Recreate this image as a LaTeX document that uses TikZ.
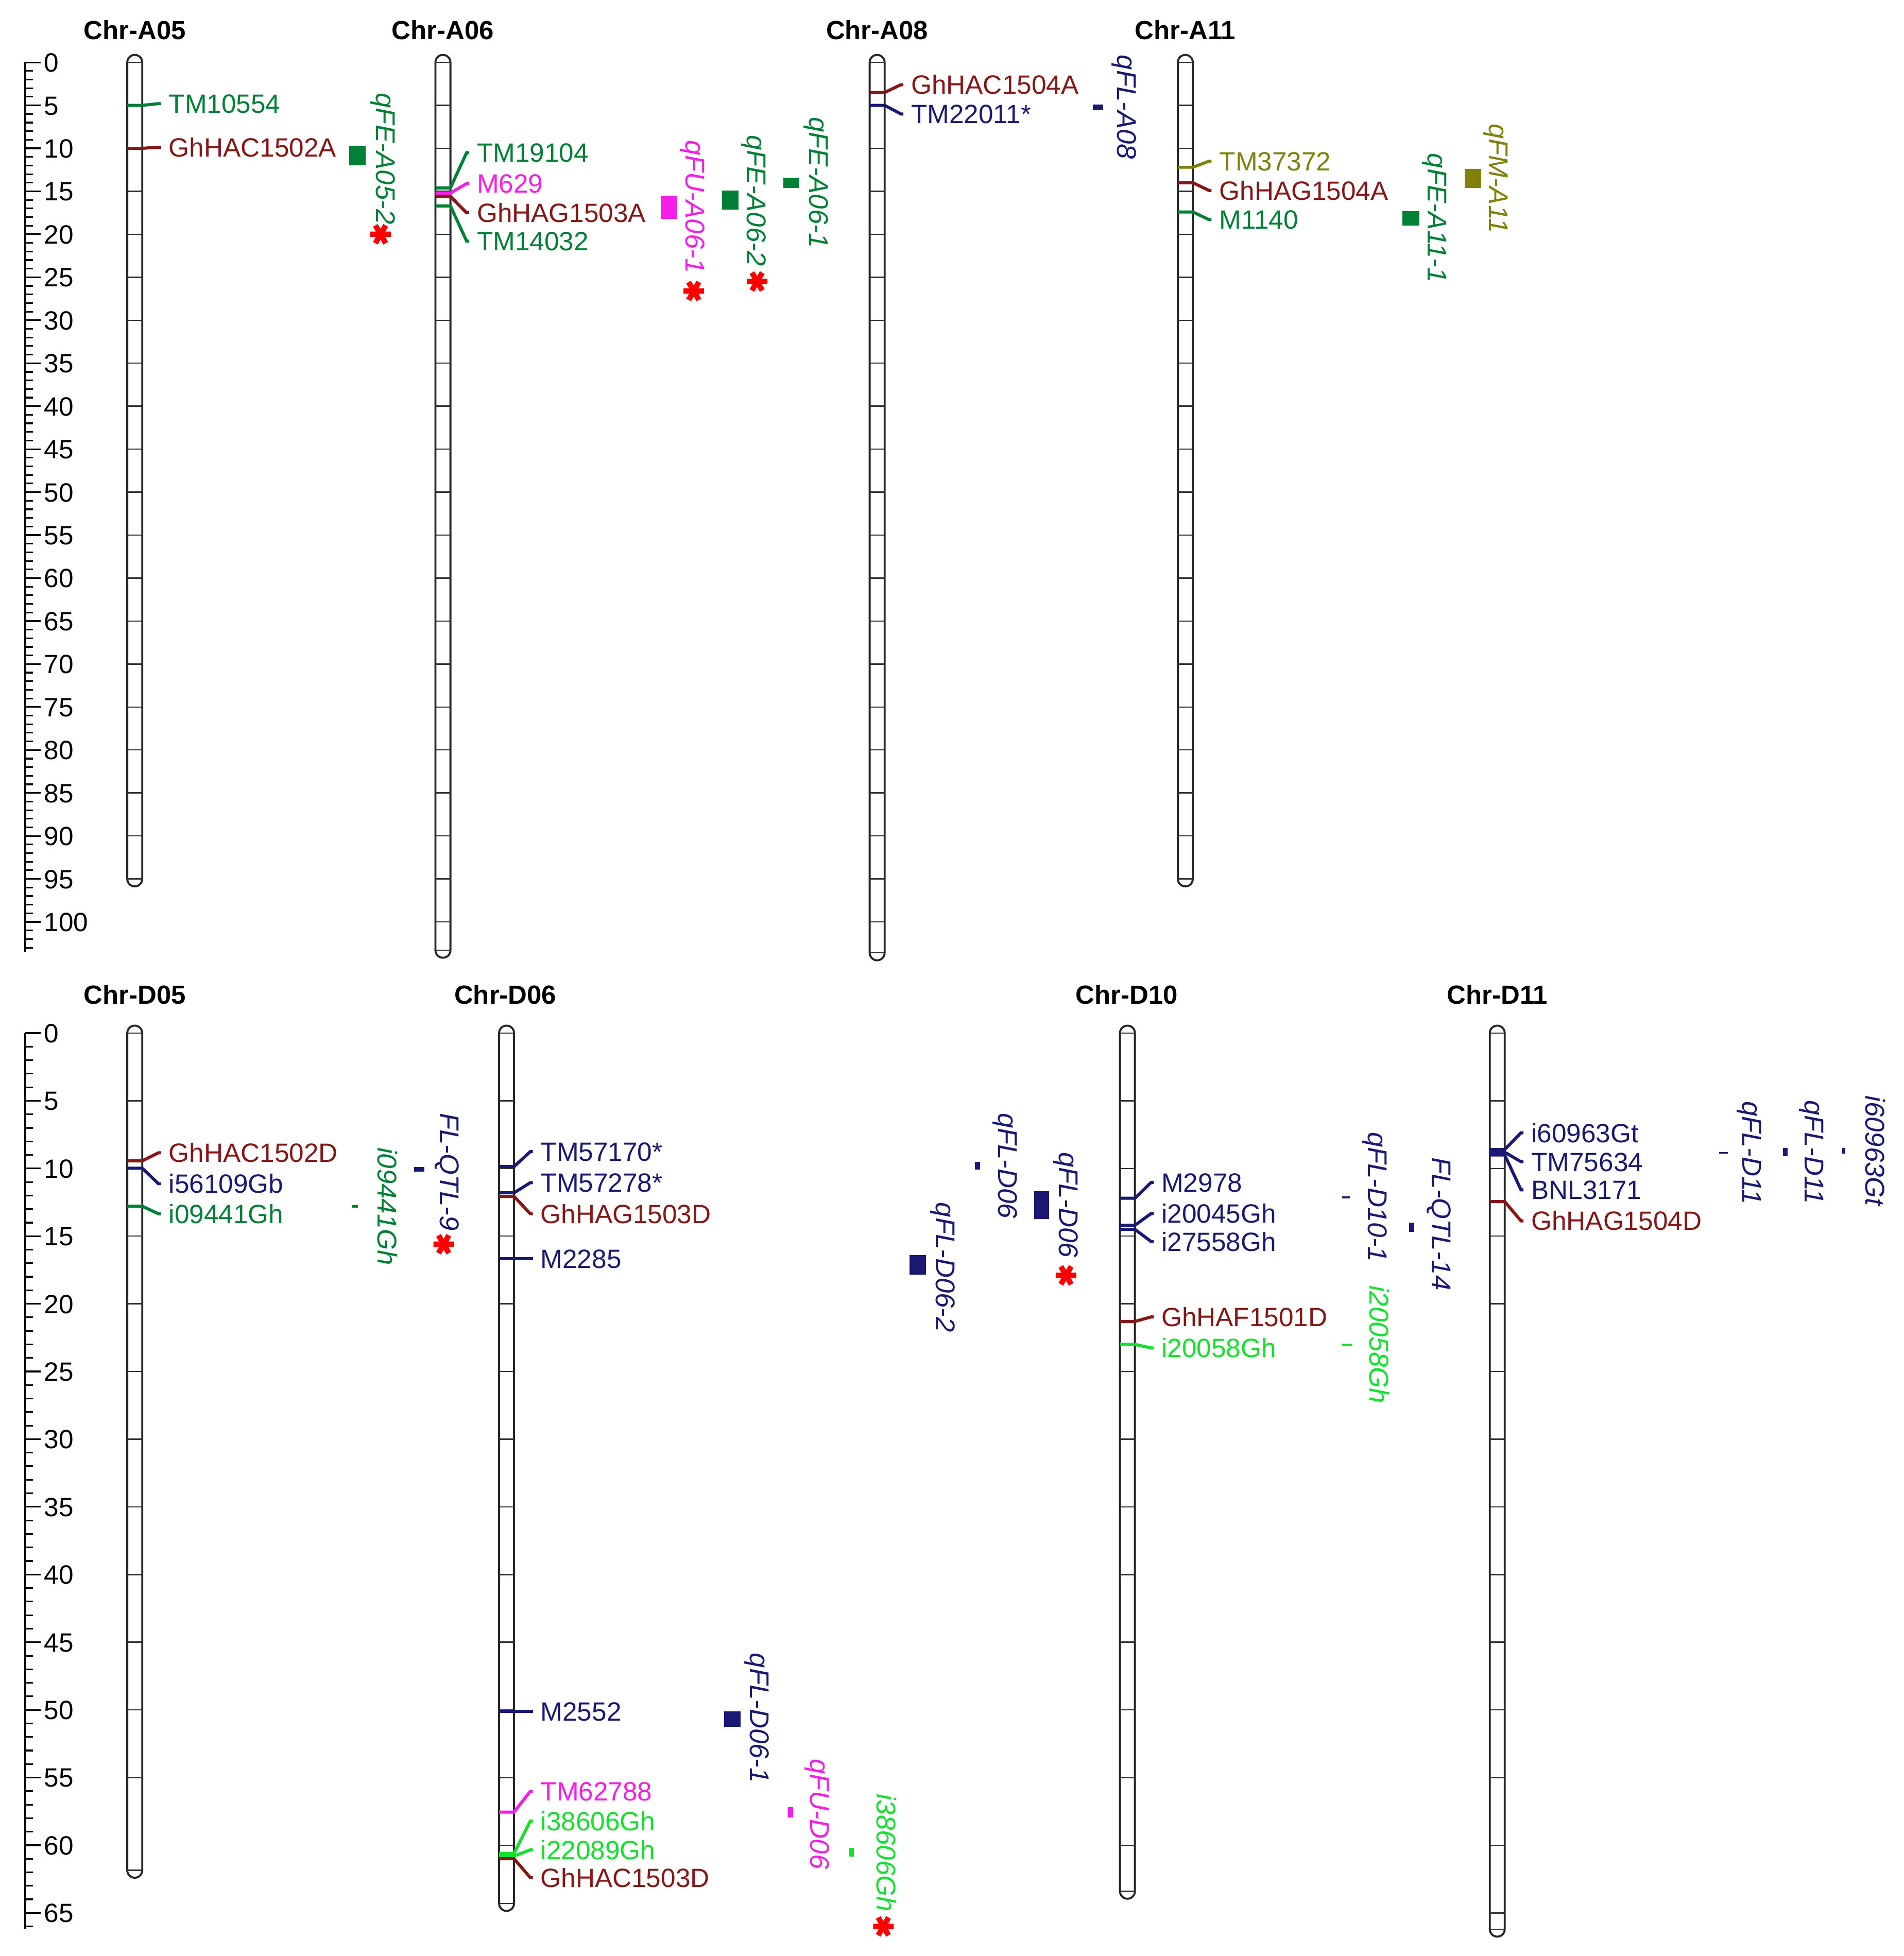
\documentclass[tikz,border=0pt]{standalone}
\usepackage{fontspec}
\setmainfont{Liberation Sans}
\definecolor{mgreen}{RGB}{0,128,55}
\definecolor{mred}{RGB}{135,22,22}
\definecolor{mnavy}{RGB}{25,25,115}
\definecolor{mpink}{RGB}{245,30,230}
\definecolor{molive}{RGB}{128,128,10}
\definecolor{mlime}{RGB}{20,225,45}
\begin{document}
\begin{tikzpicture}[x=0.024227cm,y=-0.024227cm,
  mlab/.style={font=\fontsize{14.6}{16}\selectfont,anchor=west,inner sep=0pt,text height=10.5pt,text depth=0pt},
  qlab/.style={font=\fontsize{15}{17}\selectfont\itshape,rotate=-90,inner sep=0pt,text height=10.7pt,text depth=3.2pt},
  ttl/.style={font=\fontsize{14.5}{16}\selectfont\bfseries,inner sep=0pt,text height=10.4pt,text depth=0pt},
  chr/.style={draw=black!85,fill=white,line width=1.1pt},
  band/.style={black!80,line width=0.7pt},
  mline/.style={line width=1.7pt},
  scl/.style={line width=0.9pt},
  astk/.pic={\draw[red,line width=3pt] (-0.2cm,0cm) -- (0.2cm,0cm) (120:0.2cm) -- (-60:0.2cm) (60:0.2cm) -- (240:0.2cm);}]

\useasboundingbox (0,0) rectangle (1526,1567.7);

% titles
\node[ttl] (tA05) at (108,24) {Chr-A05};
\node[ttl] (tA06) at (355,24) {Chr-A06};
\node[ttl] (tA08) at (703,24) {Chr-A08};
\node[ttl] (tA11) at (950,24) {Chr-A11};
\node[ttl] (tD05) at (108,797) {Chr-D05};
\node[ttl] (tD06) at (405,797) {Chr-D06};
\node[ttl] (tD10) at (903,797) {Chr-D10};
\node[ttl] (tD11) at (1200,797) {Chr-D11};

% upper panel, y in cM
\begin{scope}[shift={(0,50)},y=-0.16692cm]
  \draw[scl] (20,0) -- (20,103.5);
  \foreach \k in {0,...,103} \draw[scl] (20,\k) -- (26.5,\k);
  \foreach \k in {0,5,...,100} {
    \draw[scl] (20,\k) -- (32.5,\k);
    \node[mlab] (sa\k) at (35,\k) {\k};
  }
  \foreach \xc/\L/\M in {108/95/95,355/103.3/100,703/103.6/100,950/95/95} {
    \draw[chr] (\xc-6,\L) -- (\xc-6,0) arc[start angle=180,end angle=0,radius=0.1454cm]
      -- (\xc+6,\L) arc[start angle=0,end angle=-180,radius=0.1454cm] -- cycle;
    \foreach \k in {0,5,...,\M} \draw[band] (\xc-6,\k) -- (\xc+6,\k);
    \draw[band] (\xc-6,\L) -- (\xc+6,\L);
  }
  \foreach \xc/\m/\l/\col/\nm/\txt in {
    108/5/4.8/mgreen/TM10554/TM10554,
    108/10/9.87/mred/GhHAC1502A/GhHAC1502A,
    355/14.6/10.5/mgreen/TM19104/TM19104,
    355/15.2/14.1/mpink/M629/M629,
    355/15.6/17.5/mred/GhHAG1503A/GhHAG1503A,
    355/16.7/20.8/mgreen/TM14032/TM14032,
    703/3.5/2.6/mred/GhHAC1504A/GhHAC1504A,
    703/5.0/6.0/mnavy/TM22011/TM22011*,
    950/12.2/11.5/molive/TM37372/TM37372,
    950/14.0/14.9/mred/GhHAG1504A/GhHAG1504A,
    950/17.4/18.3/mgreen/M1140/M1140} {
    \node[mlab,text=\col] (\nm) at (\xc+27,\l) {\txt};
    \draw[mline,color=\col] (\xc-6,\m) -- (\xc+6,\m) -- (\xc+19,\l) -- ([xshift=-0.145cm]\nm.west);
  }
  \foreach \xa/\xb/\ca/\cb/\col/\nm/\lx/\lc/\txt in {
    280/293/9.7/12.0/mgreen/qFE-A05-2/307/11.2/qFE-A05-2,
    529.6/542.3/15.5/18.2/mpink/qFU-A06-1/555/16.8/qFU-A06-1,
    578.7/591.8/14.9/17.1/mgreen/qFE-A06-2/604/16.1/qFE-A06-2,
    627.7/640.6/13.4/14.6/mgreen/qFE-A06-1/654/14.0/qFE-A06-1,
    876/884/4.9/5.55/mnavy/qFL-A08/901/5.2/qFL-A08,
    1124/1137.6/17.3/19.0/mgreen/qFE-A11-1/1150/18.1/qFE-A11-1,
    1174/1187/12.4/14.6/molive/qFM-A11/1199/13.5/qFM-A11} {
    \fill[fill=\col] (\xa,\ca) rectangle (\xb,\cb);
    \node[qlab,text=\col] (\nm) at (\lx,\lc) {\txt};
  }
  \pic at (305,20.0) {astk};
  \pic at (556,26.6) {astk};
  \pic at (606.8,25.5) {astk};
\end{scope}

% lower panel, y in cM
\begin{scope}[shift={(0,828)},y=-0.262863cm]
  \draw[scl] (20,0) -- (20,66.2);
  \foreach \k in {0,...,66} \draw[scl] (20,\k) -- (26.5,\k);
  \foreach \k in {0,5,...,65} {
    \draw[scl] (20,\k) -- (32.5,\k);
    \node[mlab] (sd\k) at (35,\k) {\k};
  }
  \foreach \xc/\L/\M in {108/61.85/55,406/64.3/60,903.6/63.4/60,1200/66.2/65} {
    \draw[chr] (\xc-6,\L) -- (\xc-6,0) arc[start angle=180,end angle=0,radius=0.1454cm]
      -- (\xc+6,\L) arc[start angle=0,end angle=-180,radius=0.1454cm] -- cycle;
    \foreach \k in {0,5,...,\M} \draw[band] (\xc-6,\k) -- (\xc+6,\k);
    \draw[band] (\xc-6,\L) -- (\xc+6,\L);
  }
  \foreach \xc/\m/\l/\col/\nm/\txt in {
    108/9.44/8.84/mred/GhHAC1502D/GhHAC1502D,
    108/9.98/11.13/mnavy/i56109Gb/i56109Gb,
    108/12.79/13.35/mgreen/i09441Gh/i09441Gh,
    406/9.86/8.76/mnavy/TM57170/TM57170*,
    406/11.8/11.05/mnavy/TM57278/TM57278*,
    406/12.07/13.34/mred/GhHAG1503D/GhHAG1503D,
    406/16.65/16.65/mnavy/M2285/M2285,
    406/50.1/50.1/mnavy/M2552/M2552,
    406/57.55/56.02/mpink/TM62788/TM62788,
    406/60.6/58.22/mlime/i38606Gh/i38606Gh,
    406/60.8/60.34/mlime/i22089Gh/i22089Gh,
    406/61.0/62.39/mred/GhHAC1503D/GhHAC1503D,
    903.6/12.2/11.03/mnavy/M2978/M2978,
    903.6/14.2/13.33/mnavy/i20045Gh/i20045Gh,
    903.6/14.5/15.4/mnavy/i27558Gh/i27558Gh,
    903.6/21.3/20.97/mred/GhHAF1501D/GhHAF1501D,
    903.6/23.0/23.26/mlime/i20058Gh/i20058Gh,
    1200/8.6/7.37/mnavy/i60963Gt/i60963Gt,
    1200/8.8/9.5/mnavy/TM75634/TM75634,
    1200/9.0/11.58/mnavy/BNL3171/BNL3171,
    1200/12.45/13.87/mred/GhHAG1504D/GhHAG1504D} {
    \node[mlab,text=\col] (\nm) at (\xc+27,\l) {\txt};
    \draw[mline,color=\col] (\xc-6,\m) -- (\xc+6,\m) -- (\xc+19,\l) -- ([xshift=-0.145cm]\nm.west);
  }
  \foreach \xa/\xb/\ca/\cb/\col/\nm/\lx/\lc/\txt in {
    332/340/9.9/10.25/mnavy/FL-QTL-9/358/10.25/FL-QTL-9,
    282/287/12.7/12.9/mgreen/Q-i09441Gh/308/12.8/i09441Gh,
    580.3/593.4/50.1/51.25/mnavy/qFL-D06-1/606.6/50.6/qFL-D06-1,
    631.5/635.5/57.2/57.95/mpink/qFU-D06/655/57.7/qFU-D06,
    680.5/684.2/60.2/60.85/mlime/Q-i38606Gh/708/60.55/i38606Gh,
    729/742.2/16.4/17.85/mnavy/qFL-D06-2/755.6/17.3/qFL-D06-2,
    781.5/785.5/9.5/10.1/mnavy/qFL-D06/805.7/9.8/qFL-D06,
    829/841/11.7/13.75/mnavy/qFL-D06s/854.4/12.7/qFL-D06,
    1075.5/1081.8/12.05/12.2/mnavy/qFL-D10-1/1101.8/12.1/qFL-D10-1,
    1129.5/1133.5/14.0/14.7/mnavy/FL-QTL-14/1153/14.1/FL-QTL-14,
    1075.5/1083.4/22.95/23.1/mlime/Q-i20058Gh/1103/23.0/i20058Gh,
    1378/1385/8.8/8.9/mnavy/qFL-D11a/1402/8.85/qFL-D11,
    1429/1432.5/8.5/9.1/mnavy/qFL-D11b/1452/8.8/qFL-D11,
    1476.5/1479/8.5/8.9/mnavy/Q-i60963Gt/1500.6/8.7/i60963Gt} {
    \fill[fill=\col] (\xa,\ca) rectangle (\xb,\cb);
    \node[qlab,text=\col] (\nm) at (\lx,\lc) {\txt};
  }
  \pic at (355.6,15.6) {astk};
  \pic at (708,66.0) {astk};
  \pic at (854.4,17.9) {astk};
\end{scope}
\end{tikzpicture}
\end{document}
